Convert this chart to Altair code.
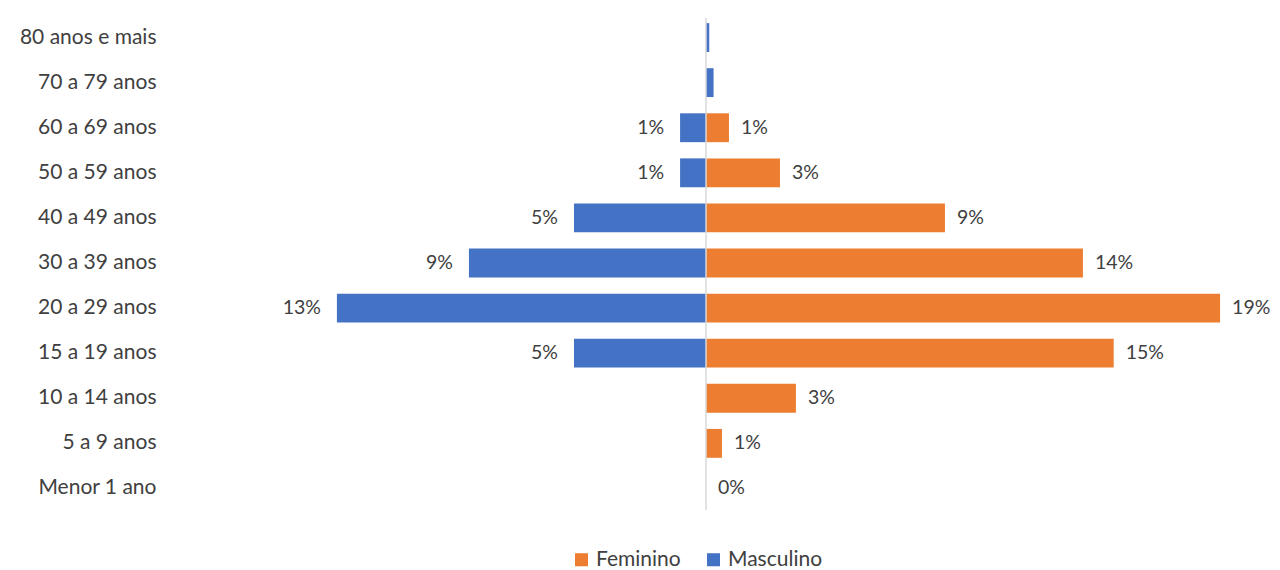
import altair as alt
import pandas as pd

categories = ["80 anos e mais", "70 a 79 anos", "60 a 69 anos", "50 a 59 anos",
              "40 a 49 anos", "30 a 39 anos", "20 a 29 anos", "15 a 19 anos",
              "10 a 14 anos", "5 a 9 anos", "Menor 1 ano"]
# Feminino percentages (drawn to the right)
feminino = [0.0, 0.0, 0.85, 2.74, 8.85, 13.96, 19.04, 15.1, 3.33, 0.59, 0.0]
feminino_labels = ["", "", "1%", "3%", "9%", "14%", "19%", "15%", "3%", "1%", "0%"]
# Masculino percentages as plotted (negative = left of the axis)
masculino = [0.12, 0.28, -0.96, -0.96, -4.89, -8.78, -13.67, -4.89, 0.0, 0.0, 0.0]
masculino_labels = ["", "", "1%", "1%", "5%", "9%", "13%", "5%", "", "", ""]

rows = []
for c, v, l in zip(categories, feminino, feminino_labels):
    rows.append({"faixa": c, "sexo": "Feminino", "valor": v, "rotulo": l})
for c, v, l in zip(categories, masculino, masculino_labels):
    rows.append({"faixa": c, "sexo": "Masculino", "valor": v, "rotulo": l})
df = pd.DataFrame(rows)

FONT = "Lato"
FS = 21
FSD = 19.5
TXT = "#404040"
W, H = 1080, 496

xscale = alt.Scale(domain=[-20, 20], nice=False)
yenc = alt.Y("faixa:N", sort=categories, title=None,
             scale=alt.Scale(paddingInner=0.36, paddingOuter=0.18),
             axis=alt.Axis(domain=False, ticks=False, labelPadding=10,
                           labelFontSize=FS, labelColor=TXT, labelFont=FONT))

base = alt.Chart(df)

bars = base.mark_bar().encode(
    x=alt.X("valor:Q", scale=xscale, stack=None, axis=None),
    y=yenc,
    color=alt.Color("sexo:N",
                    scale=alt.Scale(domain=["Feminino", "Masculino"],
                                    range=["#ED7D31", "#4472C4"]),
                    legend=alt.Legend(title=None, orient="none", direction="horizontal",
                                      legendX=405, legendY=534, symbolType="square",
                                      symbolSize=170, symbolStrokeWidth=0,
                                      labelFontSize=FS, labelColor=TXT,
                                      labelFont=FONT, columnPadding=22, symbolOffset=0)),
)

axis_line = alt.Chart(pd.DataFrame({"x": [0]})).mark_rule(color="#D9D9D9", strokeWidth=1.5).encode(
    x=alt.X("x:Q", scale=xscale),
    y=alt.value(3), y2=alt.value(H - 1),
)

fem_text = base.transform_filter(alt.datum.sexo == "Feminino").mark_text(
    align="left", baseline="middle", dx=12, fontSize=FSD, color=TXT, font=FONT
).encode(x=alt.X("valor:Q", scale=xscale), y=yenc, text="rotulo:N")

masc_text = base.transform_filter(alt.datum.sexo == "Masculino").mark_text(
    align="right", baseline="middle", dx=-16, fontSize=FSD, color=TXT, font=FONT
).encode(x=alt.X("valor:Q", scale=xscale), y=yenc, text="rotulo:N")

chart = alt.layer(bars, axis_line, fem_text, masc_text).properties(
    width=W, height=H,
    background="white",
    autosize=alt.AutoSizeParams(type="none"),
    padding={"left": 158, "top": 7, "right": 26, "bottom": 59},
).configure_view(strokeWidth=0, stroke="transparent")

chart.save("out.html", embed_options={"renderer": "svg", "actions": False})
